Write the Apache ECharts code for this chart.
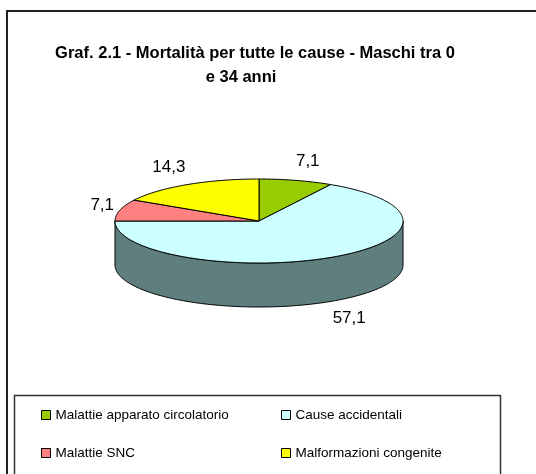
<!DOCTYPE html>
<html>
<head>
<meta charset="utf-8">
<script src="https://cdn.jsdelivr.net/npm/echarts@6/dist/echarts.min.js"></script>
<style>html,body{margin:0;padding:0;background:#fff;} #chart{width:536px;height:474px;}</style>
</head>
<body>
<div id="chart"></div>
<script>
    // dati del grafico
    const categories = ['Malattie apparato circolatorio', 'Cause accidentali', 'Malattie SNC', 'Malformazioni congenite'];
    const values = [7.1, 57.1, 7.1, 14.3];
    const valueLabels = ['7,1', '57,1', '7,1', '14,3'];
    const colors = ['#99cc00', '#ccffff', '#ff8080', '#ffff00'];
    const sideColors = ['#5c7a00', '#5f7f7f', '#994d4d', '#999900'];

    const cx = 259, cy = 221, rx = 144, ry = 42, depth = 44;
    const FONT = 'Liberation Sans, Arial, sans-serif';

    const total = values.reduce((a, b) => a + b, 0);
    let acc = 0;
    const spans = values.map(function (v) {
        const s = acc;
        acc += v;
        return [s / total * 360, acc / total * 360];
    });

    function pt (deg, dx, dy, off) {
        const a = deg * Math.PI / 180;
        return [cx + dx * Math.sin(a), cy - dy * Math.cos(a) + (off || 0)];
    }
    function arc (a1, a2, off) {
        const pts = [];
        const n = Math.max(2, Math.ceil(Math.abs(a2 - a1)));
        for (let i = 0; i <= n; i++) {
            pts.push(pt(a1 + (a2 - a1) * i / n, rx, ry, off));
        }
        return pts;
    }

    function renderSlice (params, api) {
        const i = params.seriesIndex;
        const a1 = spans[i][0], a2 = spans[i][1];
        const children = [];
        // parete laterale visibile (metà anteriore)
        const w1 = Math.max(a1, 90), w2 = Math.min(a2, 270);
        if (w2 > w1) {
            children.push({
                type: 'polygon',
                shape: { points: arc(w1, w2, 0).concat(arc(w2, w1, depth)) },
                style: { fill: sideColors[i], stroke: '#000', lineWidth: 1 }
            });
        }
        children.push({
            type: 'polygon',
            shape: { points: [[cx, cy]].concat(arc(a1, a2, 0)) },
            style: { fill: colors[i], stroke: '#000', lineWidth: 1 }
        });
        // etichetta fuori dalla fetta
        const mid = (a1 + a2) / 2;
        const s = Math.sin(mid * Math.PI / 180);
        const front = Math.cos(mid * Math.PI / 180) < 0;
        const lp = pt(mid, rx + 55 - 38 * Math.abs(s), ry + 20, front ? depth : 0);
        children.push({
            type: 'text',
            x: lp[0],
            y: lp[1],
            style: {
                text: valueLabels[i],
                fill: '#000',
                font: '17px ' + FONT,
                align: 'center',
                verticalAlign: 'middle'
            }
        });
        return { type: 'group', children: children };
    }

    const option = {
        animation: false,
        backgroundColor: '#fff',
        title: [
            {
                text: 'Graf. 2.1 - Mortalità per tutte le cause - Maschi tra 0',
                left: 250,
                top: 40,
                textAlign: 'center',
                textStyle: { fontFamily: FONT, fontSize: 16.5, fontWeight: 'bold', color: '#000' }
            },
            {
                text: 'e 34 anni',
                left: 236,
                top: 64,
                textAlign: 'center',
                textStyle: { fontFamily: FONT, fontSize: 16.5, fontWeight: 'bold', color: '#000' }
            }
        ],
        legend: [
            {
                data: [categories[0], categories[2]],
                orient: 'vertical',
                left: 36,
                top: 403,
                itemGap: 24,
                itemWidth: 9,
                itemHeight: 9,
                icon: 'rect',
                itemStyle: { borderColor: '#000', borderWidth: 1 },
                textStyle: { fontFamily: FONT, fontSize: 13.5, color: '#000' }
            },
            {
                data: [categories[1], categories[3]],
                orient: 'vertical',
                left: 276,
                top: 403,
                itemGap: 24,
                itemWidth: 9,
                itemHeight: 9,
                icon: 'rect',
                itemStyle: { borderColor: '#000', borderWidth: 1 },
                textStyle: { fontFamily: FONT, fontSize: 13.5, color: '#000' }
            }
        ],
        graphic: [
            {
                type: 'rect',
                shape: { x: 7, y: 11, width: 560, height: 500 },
                style: { fill: 'none', stroke: '#222', lineWidth: 2 },
                silent: true
            },
            {
                type: 'rect',
                shape: { x: 14.5, y: 395.5, width: 486, height: 100 },
                style: { fill: 'none', stroke: '#333', lineWidth: 1.5 },
                silent: true
            }
        ],
        series: categories.map(function (name, i) {
            return {
                name: name,
                type: 'custom',
                coordinateSystem: 'none',
                itemStyle: { color: colors[i] },
                renderItem: renderSlice,
                data: [values[i]]
            };
        })
    };

    const chart = echarts.init(document.getElementById('chart'));
    chart.setOption(option);
    window.addEventListener('resize', function () {
        chart.resize();
    });
</script>
</body>
</html>
